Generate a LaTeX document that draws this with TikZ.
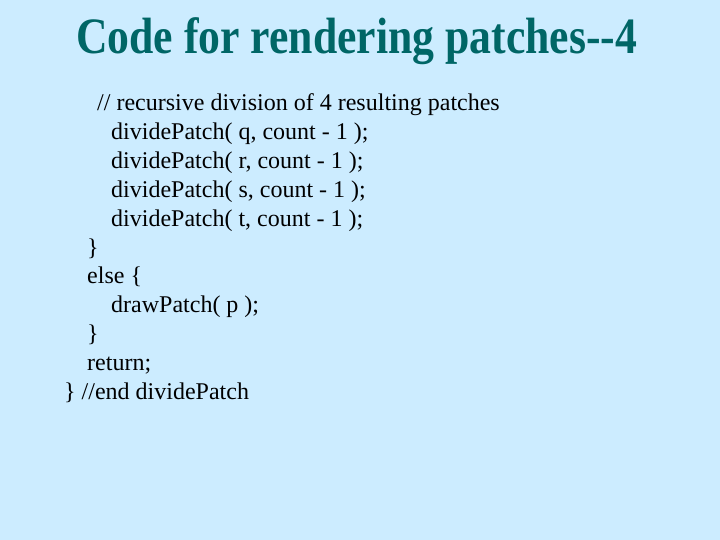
\documentclass[tikz,border=0pt]{standalone}
\usepackage{fontspec}
\usepackage{graphicx}
\setmainfont{Liberation Serif}
\definecolor{bg}{HTML}{CCECFF}
\definecolor{titlecol}{HTML}{006666}
\begin{document}
\begin{tikzpicture}[x=1pt,y=-1pt,
  titletext/.style={anchor=base west,inner sep=0pt,text=titlecol,font=\fontsize{51}{60}\selectfont\bfseries},
  codetext/.style={anchor=base west,inner sep=0pt,text=black,font=\fontsize{24}{28.8}\selectfont}]
\fill[bg] (0,0) rectangle (720,540);
\useasboundingbox (0,0) rectangle (720,540);
\node[titletext] (title) at (76,54) {\resizebox{561pt}{\height}{Code for rendering patches-{}-4}};
\node[codetext] (l1) at (97,111) {// recursive division of 4 resulting patches};
\node[codetext] (l2) at (111,139.8) {dividePatch( q, count - 1 );};
\node[codetext] (l3) at (111,168.6) {dividePatch( r, count - 1 );};
\node[codetext] (l4) at (111,197.4) {dividePatch( s, count - 1 );};
\node[codetext] (l5) at (111,226.2) {dividePatch( t, count - 1 );};
\node[codetext] (l6) at (87,255) {\}};
\node[codetext] (l7) at (87,283.8) {else \{};
\node[codetext] (l8) at (111,312.6) {drawPatch( p );};
\node[codetext] (l9) at (87,341.4) {\}};
\node[codetext] (l10) at (87,370.2) {return;};
\node[codetext] (l11) at (64,399) {\} //end dividePatch};
\end{tikzpicture}
\end{document}
